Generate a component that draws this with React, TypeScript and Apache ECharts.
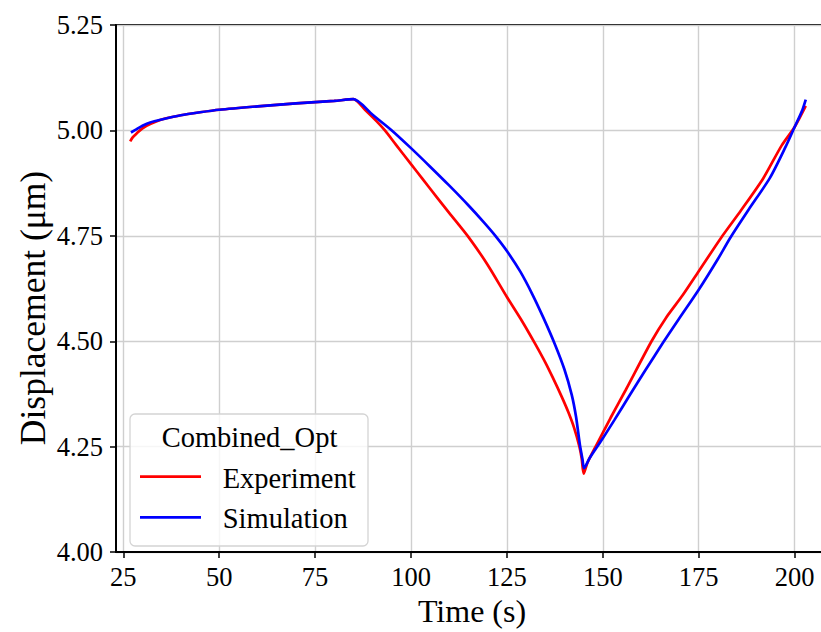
import React, { useEffect, useRef } from "react";
import * as echarts from "echarts";

const expTime = [26.8, 27.5, 28.5, 30, 32, 35, 40, 45, 50, 60, 70, 80, 85, 88, 91, 93.2, 96, 100, 103, 106.7, 110, 115, 120, 125, 129, 132.3, 135, 137, 139.3, 141, 142.5, 143.9, 144.5, 145, 146, 148.4, 152, 156, 162.7, 166.5, 170.8, 175, 180.8, 186, 191.8, 196.6, 200, 202.9];
const expDisp = [4.974, 4.984, 4.993, 5.005, 5.015, 5.026, 5.036, 5.043, 5.049, 5.057, 5.064, 5.07, 5.074, 5.049, 5.022, 5.0, 4.967, 4.92, 4.885, 4.842, 4.804, 4.747, 4.681, 4.605, 4.547, 4.495, 4.45, 4.413, 4.368, 4.332, 4.295, 4.25, 4.222, 4.186, 4.212, 4.255, 4.318, 4.385, 4.5, 4.556, 4.609, 4.666, 4.745, 4.81, 4.886, 4.964, 5.008, 5.058];

const simTime = [27, 28.5, 30, 32, 35, 40, 45, 50, 60, 70, 80, 85, 90, 95, 100, 105, 110, 115, 119, 122, 125, 128.5, 131.6, 134.5, 137.5, 140, 141.9, 143, 144.05, 144.7, 145.1, 146.5, 148, 150, 153, 157, 161, 165.8, 170, 175, 180, 183.2, 188, 193.6, 197.7, 200, 202, 202.9];
const simDisp = [4.995, 5.003, 5.011, 5.019, 5.026, 5.036, 5.043, 5.049, 5.057, 5.064, 5.07, 5.074, 5.037, 5.0, 4.958, 4.914, 4.869, 4.822, 4.782, 4.75, 4.714, 4.665, 4.612, 4.556, 4.493, 4.433, 4.373, 4.322, 4.253, 4.22, 4.199, 4.222, 4.243, 4.27, 4.313, 4.372, 4.43, 4.498, 4.555, 4.622, 4.695, 4.745, 4.812, 4.888, 4.962, 5.008, 5.048, 5.073];

const xTicks = [25, 50, 75, 100, 125, 150, 175, 200];
const seriesNames = ["Experiment", "Simulation"];
const legendTitle = "Combined_Opt";
const xAxisTitle = "Time (s)";
const yAxisTitle = "Displacement (μm)";

const FONT = '"Liberation Serif", "Times New Roman", serif';

export default function App() {
  const ref = useRef<HTMLDivElement>(null);
  useEffect(() => {
    if (!ref.current) return;
    const chart = echarts.init(ref.current, null, { renderer: "svg" });
    const expData = expTime.map((t, i) => [t, expDisp[i]]);
    const simData = simTime.map((t, i) => [t, simDisp[i]]);
    chart.setOption({
      animation: false,
      backgroundColor: "#ffffff",
      textStyle: { fontFamily: FONT },
      grid: {
        left: 116,
        top: 25,
        width: 712,
        height: 534.3,
        show: true,
        borderColor: "#000000",
        borderWidth: 2,
        containLabel: false,
      },
      xAxis: {
        type: "value",
        min: 23.1,
        max: 208.7,
        name: xAxisTitle,
        nameLocation: "middle",
        nameGap: 38,
        nameTextStyle: { fontFamily: FONT, fontSize: 32, color: "#000" },
        axisLine: { show: true, lineStyle: { color: "#000", width: 2 } },
        axisTick: {
          show: true,
          customValues: xTicks,
          length: 6,
          inside: false,
          lineStyle: { color: "#000", width: 1.5 },
        },
        axisLabel: {
          customValues: xTicks,
          fontFamily: FONT,
          fontSize: 26.5,
          color: "#000",
          margin: 11,
        },
        splitLine: { show: true, lineStyle: { color: "#cfcfcf", width: 1.4 } },
      },
      yAxis: {
        type: "value",
        min: 4,
        max: 5.25,
        interval: 0.25,
        axisLine: { show: true, lineStyle: { color: "#000", width: 2 } },
        axisTick: { show: true, length: 6, lineStyle: { color: "#000", width: 1.5 } },
        axisLabel: {
          fontFamily: FONT,
          fontSize: 26.5,
          color: "#000",
          margin: 13,
          formatter: (v: number) => v.toFixed(2),
        },
        splitLine: { show: true, lineStyle: { color: "#cfcfcf", width: 1.4 } },
      },
      series: [
        {
          name: seriesNames[0],
          type: "line",
          data: expData,
          showSymbol: false,
          symbol: "none",
          smooth: 0.25,
          lineStyle: { color: "#ff0000", width: 2.7 },
          itemStyle: { color: "#ff0000" },
          z: 2,
        },
        {
          name: seriesNames[1],
          type: "line",
          data: simData,
          showSymbol: false,
          symbol: "none",
          smooth: 0.25,
          lineStyle: { color: "#0000ff", width: 2.7 },
          itemStyle: { color: "#0000ff" },
          z: 3,
        },
      ],
      graphic: [
        {
          type: "text",
          z: 50,
          x: 33,
          y: 308,
          rotation: Math.PI / 2,
          style: {
            text: yAxisTitle,
            fontFamily: FONT,
            fontSize: 35.5,
            fill: "#000",
            align: "center",
            verticalAlign: "middle",
          },
        },
        {
          type: "rect",
          z: 100,
          shape: { x: 130, y: 414, width: 238, height: 132, r: 5 },
          style: { fill: "rgba(255,255,255,0.8)", stroke: "#d4d4d4", lineWidth: 1.3 },
        },
        {
          type: "text",
          z: 101,
          x: 249.5,
          y: 437,
          style: {
            text: legendTitle,
            fontFamily: FONT,
            fontSize: 28.5,
            fill: "#000",
            align: "center",
            verticalAlign: "middle",
          },
        },
        {
          type: "line",
          z: 101,
          shape: { x1: 140, y1: 476.7, x2: 201, y2: 476.7 },
          style: { stroke: "#ff0000", lineWidth: 2.7 },
        },
        {
          type: "text",
          z: 101,
          x: 222.7,
          y: 478,
          style: {
            text: seriesNames[0],
            fontFamily: FONT,
            fontSize: 28.5,
            fill: "#000",
            align: "left",
            verticalAlign: "middle",
          },
        },
        {
          type: "line",
          z: 101,
          shape: { x1: 140, y1: 517.3, x2: 201, y2: 517.3 },
          style: { stroke: "#0000ff", lineWidth: 2.7 },
        },
        {
          type: "text",
          z: 101,
          x: 222.7,
          y: 518.5,
          style: {
            text: seriesNames[1],
            fontFamily: FONT,
            fontSize: 28.5,
            fill: "#000",
            align: "left",
            verticalAlign: "middle",
          },
        },
      ],
    });
    return () => chart.dispose();
  }, []);
  return (
    <div
      style={{
        position: "fixed",
        left: 0,
        top: 0,
        width: 821,
        height: 632,
        overflow: "hidden",
        background: "#fff",
      }}
    >
      <div ref={ref} style={{ width: 840, height: 632 }} />
    </div>
  );
}
